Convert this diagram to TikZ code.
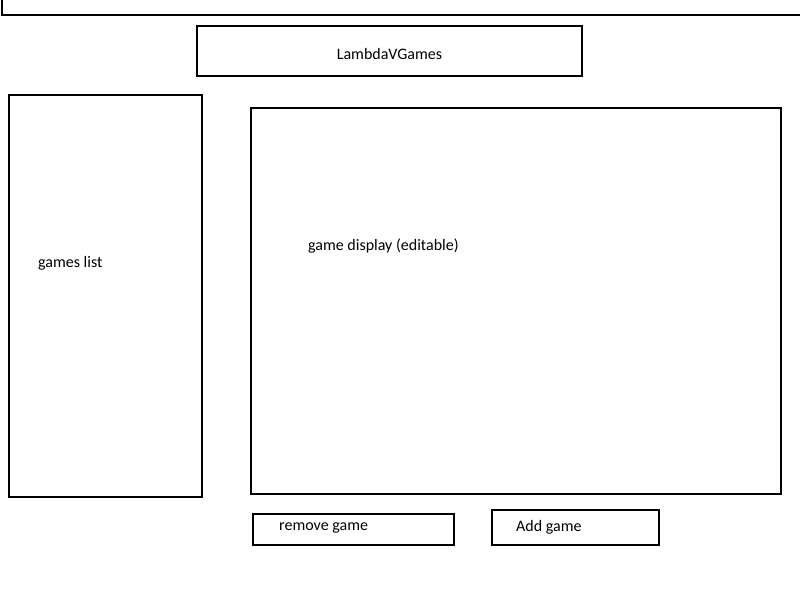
\documentclass[tikz,border=0pt]{standalone}
\usepackage{fontspec}
\setmainfont{Carlito}
\begin{document}
\begin{tikzpicture}[x=1pt,y=-1pt,
  box/.style={draw=black,line width=2pt,inner sep=0pt,fill=none},
  lbl/.style={inner sep=0pt,font=\fontsize{16}{19}\selectfont,anchor=west}]
\useasboundingbox (0,0) rectangle (800,600);
\fill[white] (0,0) rectangle (800,600);
% top frame (partially visible)
\coordinate (tl) at (2,-5);
\coordinate (tr) at (805,15);
\draw[line width=2pt] (tl) |- (tr);
% title
\node[box,minimum width=385pt,minimum height=50pt] (title) at (389.5,51) {};
\node[inner sep=0pt,font=\fontsize{16}{19}\selectfont] (titletext) at (389.5,54) {LambdaVGames};
% games list
\node[box,minimum width=193pt,minimum height=402pt] (list) at (105,296) {};
\node[lbl] (listtext) at (38,263) {games list};
% game display
\node[box,minimum width=530pt,minimum height=386pt] (display) at (516,301) {};
\node[lbl] (displaytext) at (308,246) {game display (editable)};
% buttons
\node[box,minimum width=201pt,minimum height=31pt] (remove) at (353.5,529.5) {};
\node[lbl] (removetext) at (279,528) {remove game};
\node[box,minimum width=167pt,minimum height=35pt] (add) at (575.5,527.5) {};
\node[lbl] (addtext) at (516,527) {Add game};
\end{tikzpicture}
\end{document}
